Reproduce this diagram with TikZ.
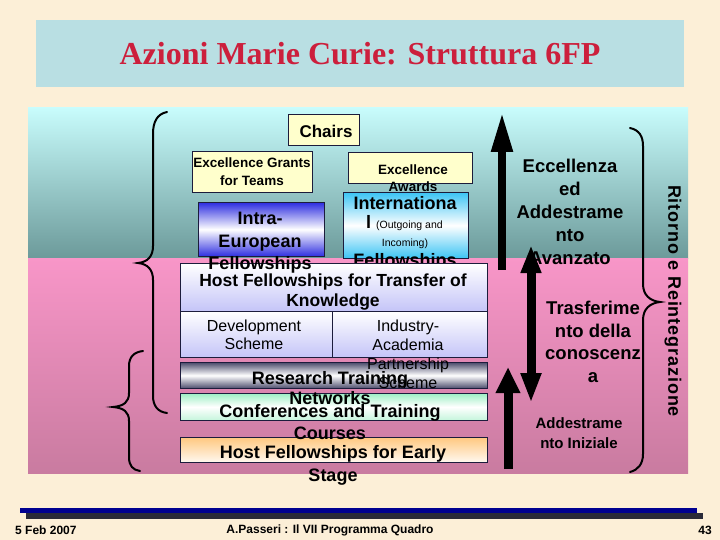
\documentclass[tikz,border=0pt]{standalone}
\usepackage{fontspec}
\setmainfont{Liberation Sans}
\newfontfamily\titlefont{Liberation Serif}
\usetikzlibrary{arrows.meta}

\definecolor{cream}{HTML}{FCEFD7}
\definecolor{titlebg}{HTML}{B9DFE3}
\definecolor{titlered}{HTML}{CC1F3C}
\definecolor{tealtop}{HTML}{C8FCFC}
\definecolor{tealbot}{HTML}{6C9A9A}
\definecolor{pinktop}{HTML}{F896C8}
\definecolor{pinkbot}{HTML}{C97BA0}
\definecolor{paleyellow}{HTML}{FFFFCC}
\definecolor{boxline}{HTML}{1C1C3C}
\definecolor{intrablue}{HTML}{2E2EE0}
\definecolor{intlcyan}{HTML}{3CC4F4}
\definecolor{lavender}{HTML}{C4C4F8}
\definecolor{rtngray}{HTML}{4C4C6C}
\definecolor{mint}{HTML}{9EEEC4}
\definecolor{peach}{HTML}{FFC880}
\definecolor{footblue}{HTML}{000090}
\definecolor{footdark}{HTML}{2A2A38}

\tikzset{
  actbox/.style={draw=boxline, line width=0.8pt, inner sep=0pt, anchor=north west},
  bigtxt/.style={font=\bfseries\fontsize{18}{22}\selectfont, align=center, inner sep=0pt},
  smalltxt/.style={font=\bfseries\fontsize{13.5}{18}\selectfont, align=center, inner sep=0pt},
  regtxt/.style={font=\fontsize{16}{18.5}\selectfont, align=center, inner sep=0pt},
  foottxt/.style={font=\bfseries\fontsize{12}{14}\selectfont, inner sep=0pt},
  brace/.style={line width=2pt, line cap=round},
}

\begin{document}
\begin{tikzpicture}[x=1pt, y=-1pt]
	\useasboundingbox (0,0) rectangle (720,540);
	\fill[cream] (0,0) rectangle (720,540);

	% title
	\fill[titlebg] (36,20) rectangle (684,87);
	\node[font=\titlefont\bfseries\fontsize{32}{38}\selectfont, text=titlered] (title) at (360,54) {Azioni Marie Curie: Struttura 6FP};

	% two bands
	\shade[top color=tealtop, bottom color=tealbot] (28,108) rectangle (688,258);
	\shade[top color=pinktop, bottom color=pinkbot] (28,258) rectangle (688,473);

	% braces on the left
	\draw[brace] (167,112) .. controls (157,114) and (153,122) .. (153,134) -- (153,246)
		.. controls (153,256) and (148,262) .. (138,263) .. controls (148,264) and (153,270) .. (153,280)
		-- (153,396) .. controls (153,406) and (158,412) .. (167,413);
	\draw[brace] (143,351) .. controls (134,352) and (129,357) .. (129,366) -- (129,393)
		.. controls (129,402) and (124,406) .. (113,407) .. controls (124,408) and (129,412) .. (129,421)
		-- (129,457) .. controls (129,466) and (133,470) .. (140,471);

	% boxes of the upper band
	\node[actbox, fill=paleyellow, minimum width=71pt, minimum height=31pt] (chairsbox) at (288,114) {};
	\node[actbox, fill=paleyellow, minimum width=120pt, minimum height=41pt] (grantsbox) at (192,151) {};
	\node[actbox, fill=paleyellow, minimum width=124pt, minimum height=31pt] (awardsbox) at (348,152) {};
	\node[actbox, top color=intlcyan, bottom color=intlcyan, middle color=white, minimum width=125pt, minimum height=66pt] (intlbox) at (343,192) {};
	\node[actbox, top color=intrablue, bottom color=intrablue, middle color=white, minimum width=126pt, minimum height=54pt] (intrabox) at (198,202) {};

	\node[bigtxt] (intla) at (405,203) {Internationa};
	\node[anchor=base west, inner sep=0pt] (intlb) at (366,229) {\bfseries\fontsize{18}{20}\selectfont l\hspace{5pt}\mdseries\fontsize{10.5}{12}\selectfont(Outgoing and};
	\node[font=\fontsize{10.5}{12}\selectfont, inner sep=0pt] (intlc) at (405,244) {Incoming)};
	\node[bigtxt] (intld) at (405,262) {Fellowships};

	% boxes of the lower band
	\node[actbox, top color=white, bottom color=lavender, minimum width=307pt, minimum height=48pt] (transferbox) at (180,263) {};
	\node[actbox, top color=white, bottom color=lavender, minimum width=152pt, minimum height=46pt] (devbox) at (180,311) {};
	\node[actbox, top color=white, bottom color=lavender, minimum width=155pt, minimum height=46pt] (indbox) at (332,311) {};
	\node[actbox, top color=rtngray, bottom color=rtngray, middle color=white, minimum width=307pt, minimum height=26pt] (rtnbox) at (180,362) {};
	\node[actbox, top color=mint, bottom color=mint!60!white, middle color=white, minimum width=307pt, minimum height=27pt] (confbox) at (180,393) {};
	\node[actbox, top color=peach, bottom color=peach!12!white, minimum width=307pt, minimum height=25pt] (earlybox) at (180,437) {};

	% texts of the boxes
	\node[bigtxt, font=\bfseries\fontsize{17}{20}\selectfont] (chairs) at (326,131) {Chairs};
	\node[smalltxt] (grants) at (252,172) {Excellence Grants\\for Teams};
	\node[smalltxt, font=\bfseries\fontsize{13.5}{17}\selectfont] (awards) at (413,178) {Excellence\\Awards};
	\node[bigtxt, font=\bfseries\fontsize{18}{22.5}\selectfont] (intra) at (260,243) {Intra-\\European\\Fellowships};
	\node[bigtxt, font=\bfseries\fontsize{17.5}{20}\selectfont] (transfer) at (333,292) {Host Fellowships for Transfer of\\Knowledge};
	\node[regtxt] (dev) at (254,335) {Development\\Scheme};
	\node[regtxt, font=\fontsize{16}{19}\selectfont] (ind) at (408,354) {Industry-\\Academia\\Partnership\\Scheme};
	\node[bigtxt, font=\bfseries\fontsize{18}{20}\selectfont] (rtn) at (330,388) {Research Training\\Networks};
	\node[bigtxt] (conf) at (330,422) {Conferences and Training\\Courses};
	\node[bigtxt, font=\bfseries\fontsize{18}{23}\selectfont] (early) at (333,465) {Host Fellowships for Early\\Stage};

	% right column
	\node[bigtxt, font=\bfseries\fontsize{18.5}{23}\selectfont] (advanced) at (570,212) {Eccellenza\\ed\\Addestrame\\nto\\Avanzato};
	\node[bigtxt, font=\bfseries\fontsize{18.5}{22.5}\selectfont] (knowhow) at (593,342) {Trasferime\\nto della\\conoscenz\\a};
	\node[bigtxt, font=\bfseries\fontsize{15}{20}\selectfont] (initial) at (579,433) {Addestrame\\nto Iniziale};

	\coordinate (upa) at (502,270);
	\coordinate (upb) at (502,112);
	\coordinate (bia) at (531,245);
	\coordinate (bib) at (531,403);
	\coordinate (lowa) at (508,469);
	\coordinate (lowb) at (508,367);
	\draw[line width=8pt, -{Triangle[length=40pt,width=20pt]}] (upa) -- (upb);
	\draw[line width=9pt, {Triangle[length=28pt,width=19pt]}-{Triangle[length=30pt,width=19pt]}] (bia) -- (bib);
	\draw[line width=9pt, -{Triangle[length=26pt,width=23pt]}] (lowa) -- (lowb);

	\draw[brace] (630,128) .. controls (639,130) and (643,136) .. (643,146) -- (643,284)
		.. controls (643,295) and (650,301) .. (660,302) .. controls (650,303) and (643,309) .. (643,320)
		-- (643,454) .. controls (643,464) and (638,470) .. (630,472);
	\node[rotate=-90, inner sep=0pt, font=\bfseries\fontsize{18}{20}\selectfont\addfontfeature{LetterSpace=5}] (return) at (673,301) {Ritorno e Reintegrazione};

	% footer
	\fill[footblue] (20,508) rectangle (697,513);
	\fill[footdark] (26,513) rectangle (703,519);
	\node[foottxt, anchor=west] (date) at (15,530) {5 Feb 2007};
	\node[foottxt] (author) at (330,530) {A.Passeri : Il VII Programma Quadro};
	\node[foottxt, anchor=east] (page) at (712,530) {43};
\end{tikzpicture}
\end{document}
